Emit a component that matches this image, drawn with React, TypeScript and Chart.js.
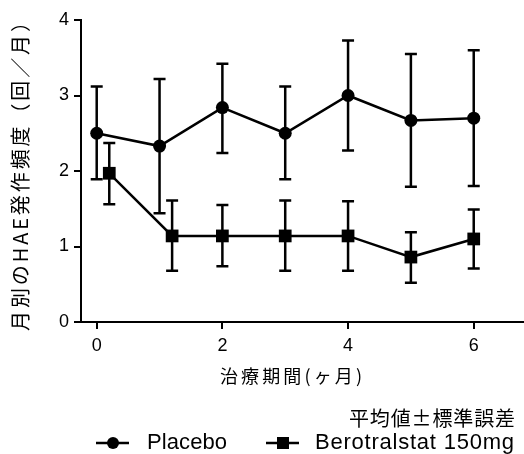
import React, { useEffect, useRef } from "react";
import { Chart, registerables } from "chart.js";

Chart.register(...registerables);

const placeboMonths = [0, 1, 2, 3, 4, 5, 6];
const placeboMean = [2.5, 2.33, 2.84, 2.5, 3.0, 2.67, 2.7];
const placeboUpper = [3.12, 3.22, 3.42, 3.12, 3.73, 3.55, 3.6];
const placeboLower = [1.89, 1.44, 2.24, 1.89, 2.27, 1.79, 1.8];

const beroMonths = [0.2, 1.2, 2, 3, 4, 5, 6];
const beroMean = [1.97, 1.14, 1.14, 1.14, 1.14, 0.86, 1.1];
const beroUpper = [2.37, 1.61, 1.55, 1.61, 1.6, 1.19, 1.49];
const beroLower = [1.56, 0.68, 0.74, 0.68, 0.68, 0.52, 0.71];

const xTicks = [0, 2, 4, 6];
const yTicks = [0, 1, 2, 3, 4];

const seriesNames = ["Placebo", "Berotralstat 150mg"];
const xTitle = "治療期間(ヶ月)";
const yTitle = "月別のHAE発作頻度（回／月）";
const noteText = "平均値±標準誤差";

const LATIN = '"Liberation Sans", "Noto Sans CJK JP", sans-serif';
const CJK = '"Noto Sans CJK JP", "Liberation Sans", sans-serif';

// draw text so that it spans from a to b (along the current x direction)
function drawSpan(ctx: CanvasRenderingContext2D, text: string, a: number, b: number, y: number) {
  const chars = Array.from(text);
  const widths = chars.map((c) => ctx.measureText(c).width);
  const total = widths.reduce((p, w) => p + w, 0);
  const gap = chars.length > 1 ? (b - a - total) / (chars.length - 1) : 0;
  let x = a;
  ctx.textAlign = "left";
  chars.forEach((c, i) => {
    ctx.fillText(c, x, y);
    x += widths[i] + gap;
  });
}

const errorBars = {
  id: "errorBars",
  afterDatasetsDraw(chart: any) {
    const ctx = chart.ctx;
    const xs = chart.scales.x;
    const ys = chart.scales.y;
    const sets = [
      { m: placeboMonths, u: placeboUpper, l: placeboLower },
      { m: beroMonths, u: beroUpper, l: beroLower },
    ];
    ctx.save();
    ctx.strokeStyle = "#000";
    ctx.lineWidth = 2.5;
    ctx.lineCap = "butt";
    sets.forEach((s) => {
      s.m.forEach((mv, i) => {
        const px = xs.getPixelForValue(mv);
        const pu = ys.getPixelForValue(s.u[i]);
        const pl = ys.getPixelForValue(s.l[i]);
        const cap = 6;
        ctx.beginPath();
        ctx.moveTo(px, pu);
        ctx.lineTo(px, pl);
        ctx.moveTo(px - cap, pu);
        ctx.lineTo(px + cap, pu);
        ctx.moveTo(px - cap, pl);
        ctx.lineTo(px + cap, pl);
        ctx.stroke();
      });
    });
    ctx.restore();
  },
};

const textDeco = {
  id: "textDeco",
  afterDraw(chart: any) {
    const ctx = chart.ctx as CanvasRenderingContext2D;
    ctx.save();
    ctx.fillStyle = "#000";
    ctx.strokeStyle = "#000";
    ctx.textBaseline = "middle";
    // y title (rotated, reads bottom to top)
    ctx.save();
    ctx.translate(20, 0);
    ctx.rotate(-Math.PI / 2);
    ctx.font = `20px ${CJK}`;
    drawSpan(ctx, yTitle, -331, -12, 0);
    ctx.restore();
    // x title
    ctx.font = `18px ${CJK}`;
    drawSpan(ctx, xTitle, 220, 362, 376);
    // note
    ctx.font = `20px ${CJK}`;
    drawSpan(ctx, noteText, 349, 515, 418);
    // legend
    const ly = 443;
    ctx.lineWidth = 2.5;
    ctx.beginPath();
    ctx.moveTo(96, ly);
    ctx.lineTo(129, ly);
    ctx.moveTo(266, ly);
    ctx.lineTo(299, ly);
    ctx.stroke();
    ctx.beginPath();
    ctx.arc(113, ly, 6, 0, Math.PI * 2);
    ctx.fill();
    ctx.fillRect(283 - 6, ly - 6, 12, 12);
    ctx.font = `22px ${LATIN}`;
    drawSpan(ctx, seriesNames[0], 147, 227, ly);
    drawSpan(ctx, seriesNames[1], 315, 514, ly);
    ctx.restore();
  },
};

export default function App() {
  const ref = useRef<HTMLCanvasElement>(null);
  useEffect(() => {
    if (!ref.current) return;
    const axisStyle = {
      grid: {
        display: true,
        drawOnChartArea: false,
        drawTicks: true,
        tickLength: 7,
        color: "#000",
        lineWidth: 2,
      },
      border: { display: true, color: "#000", width: 2 },
    };
    const chart = new Chart(ref.current, {
      type: "line",
      data: {
        datasets: [
          {
            label: seriesNames[0],
            data: placeboMonths.map((m, i) => ({ x: m, y: placeboMean[i] })),
            borderColor: "#000",
            backgroundColor: "#000",
            borderWidth: 2.5,
            pointStyle: "circle",
            pointRadius: 6.5,
            pointBorderWidth: 0,
            tension: 0,
            clip: false,
          },
          {
            label: seriesNames[1],
            data: beroMonths.map((m, i) => ({ x: m, y: beroMean[i] })),
            borderColor: "#000",
            backgroundColor: "#000",
            borderWidth: 2.5,
            pointStyle: "rect",
            pointRadius: 9,
            pointBorderWidth: 0,
            tension: 0,
            clip: false,
          },
        ],
      },
      options: {
        responsive: false,
        animation: false,
        events: [],
        layout: { autoPadding: false, padding: { left: 0, top: 20, right: 0, bottom: 62 } },
        plugins: {
          legend: { display: false },
          tooltip: { enabled: false },
        },
        scales: {
          x: {
            type: "linear",
            min: -0.25,
            max: 6.8,
            ...axisStyle,
            afterBuildTicks: (s: any) => {
              s.ticks = xTicks.map((v) => ({ value: v }));
            },
            afterFit: (s: any) => {
              s.height = 70;
              s.paddingRight = 0;
              s.paddingLeft = 0;
            },
            ticks: {
              color: "#000",
              font: { size: 18, family: LATIN },
              padding: 6,
            },
          },
          y: {
            type: "linear",
            min: 0,
            max: 4,
            ...axisStyle,
            afterBuildTicks: (s: any) => {
              s.ticks = yTicks.map((v) => ({ value: v }));
            },
            afterFit: (s: any) => {
              s.width = 81;
            },
            ticks: {
              color: "#000",
              font: { size: 18, family: LATIN },
              padding: 5,
            },
          },
        },
      },
      plugins: [errorBars, textDeco],
    } as any);
    return () => chart.destroy();
  }, []);
  return (
    <div style={{ position: "absolute", left: 0, top: 0, width: 524, height: 454, background: "#fff" }}>
      <canvas ref={ref} width={524} height={454} style={{ width: 524, height: 454 }} />
    </div>
  );
}
